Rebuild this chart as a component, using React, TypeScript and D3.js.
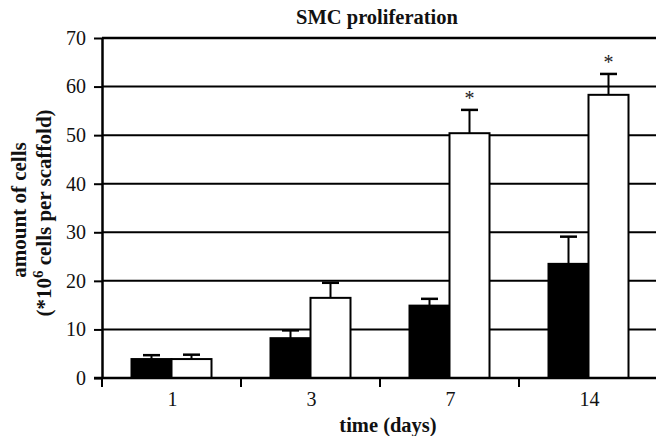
import React, { useEffect, useRef } from 'react';
import * as d3 from 'd3';

const days = ['1', '3', '7', '14'];
const control = [3.9, 8.2, 14.9, 23.5];
const controlErr = [0.8, 1.6, 1.4, 5.6];
const scaffold = [3.9, 16.5, 50.4, 58.3];
const scaffoldErr = [0.9, 3.1, 4.8, 4.3];
const significant = [false, false, true, true];
const yTicks = [0, 10, 20, 30, 40, 50, 60, 70];

const W = 656;
const H = 436;
const margin = { top: 38, left: 102, bottom: 58, right: -2 };
const FONT = '"Liberation Serif", "Times New Roman", serif';

const App = () => {
  const ref = useRef<SVGSVGElement>(null);

  useEffect(() => {
    const svg = d3.select(ref.current);
    svg.selectAll('*').remove();

    const x = d3.scaleBand().domain(days).range([margin.left, W - margin.right]);
    const y = d3.scaleLinear().domain([0, 70]).range([H - margin.bottom, margin.top]);
    const barW = 40;
    const g = svg.append('g');

    // grid lines
    g.selectAll('line.grid')
      .data(yTicks.filter(t => t > 0))
      .join('line')
      .attr('x1', margin.left)
      .attr('x2', W - margin.right)
      .attr('y1', d => y(d))
      .attr('y2', d => y(d))
      .attr('stroke', '#000')
      .attr('stroke-width', d => (d === 70 ? 2.5 : 2));

    // y axis
    const yAxis = g.append('g')
      .attr('transform', `translate(${margin.left},0)`)
      .call(d3.axisLeft(y).tickValues(yTicks).tickSize(8).tickSizeOuter(0).tickPadding(8));
    yAxis.select('.domain').attr('stroke-width', 2.5);
    yAxis.selectAll('.tick line').attr('stroke-width', 2);
    yAxis.selectAll('.tick text')
      .attr('font-family', FONT).attr('font-size', 20).attr('fill', '#111');

    // bars
    const groups = g.selectAll('g.day')
      .data(days)
      .join('g')
      .attr('transform', d => `translate(${(x(d) as number) + x.bandwidth() / 2},0)`);

    const series = [
      { vals: control, errs: controlErr, fill: '#000', off: -barW },
      { vals: scaffold, errs: scaffoldErr, fill: '#fff', off: 0 },
    ];

    series.forEach(s => {
      groups.append('line')
        .attr('x1', s.off + barW / 2)
        .attr('x2', s.off + barW / 2)
        .attr('y1', (_, i) => y(s.vals[i]))
        .attr('y2', (_, i) => y(s.vals[i] + s.errs[i]))
        .attr('stroke', '#000').attr('stroke-width', 2);
      groups.append('line')
        .attr('x1', s.off + barW / 2 - 8.5)
        .attr('x2', s.off + barW / 2 + 8.5)
        .attr('y1', (_, i) => y(s.vals[i] + s.errs[i]))
        .attr('y2', (_, i) => y(s.vals[i] + s.errs[i]))
        .attr('stroke', '#000').attr('stroke-width', 2.5);
      groups.append('rect')
        .attr('x', s.off)
        .attr('width', barW)
        .attr('y', (_, i) => y(s.vals[i]))
        .attr('height', (_, i) => y(0) - y(s.vals[i]))
        .attr('fill', s.fill)
        .attr('stroke', '#000')
        .attr('stroke-width', 2);
    });

    groups.filter((_, i) => significant[i])
      .append('text')
      .attr('x', barW / 2)
      .attr('y', (d) => {
        const i = days.indexOf(d);
        return y(scaffold[i] + scaffoldErr[i]) - 5;
      })
      .attr('text-anchor', 'middle')
      .attr('font-family', FONT).attr('font-size', 20).attr('fill', '#222')
      .text('*');

    // x axis
    const xAxis = g.append('g').attr('transform', `translate(0,${y(0)})`);
    xAxis.append('line')
      .attr('x1', margin.left - 8).attr('x2', W - margin.right)
      .attr('stroke', '#000').attr('stroke-width', 2.5);
    const edges = days.map(d => x(d) as number).concat([W - margin.right]);
    xAxis.selectAll('line.tk').data(edges).join('line')
      .attr('x1', d => d).attr('x2', d => d).attr('y1', 0).attr('y2', 9)
      .attr('stroke', '#000').attr('stroke-width', 2);
    xAxis.selectAll('text').data(days).join('text')
      .attr('x', d => (x(d) as number) + x.bandwidth() / 2 + 1)
      .attr('y', 28)
      .attr('text-anchor', 'middle')
      .attr('font-family', FONT).attr('font-size', 20).attr('fill', '#111')
      .text(d => d);

    // titles
    svg.append('text')
      .attr('x', 377).attr('y', 24)
      .attr('text-anchor', 'middle')
      .attr('font-family', FONT).attr('font-size', 20.5).attr('font-weight', 'bold').attr('fill', '#111')
      .text('SMC proliferation');
    svg.append('text')
      .attr('x', 388).attr('y', 432)
      .attr('text-anchor', 'middle')
      .attr('font-family', FONT).attr('font-size', 20.5).attr('font-weight', 'bold').attr('fill', '#111')
      .text('time (days)');

    svg.append('text')
      .attr('transform', 'translate(26,210) rotate(-90)')
      .attr('text-anchor', 'middle')
      .attr('font-family', FONT).attr('font-size', 21).attr('font-weight', 'bold').attr('fill', '#111')
      .text('amount of cells');
    const l2 = svg.append('text')
      .attr('transform', 'translate(51,213) rotate(-90)')
      .attr('text-anchor', 'middle')
      .attr('font-family', FONT).attr('font-size', 21).attr('font-weight', 'bold').attr('fill', '#111');
    l2.append('tspan').text('(*10');
    l2.append('tspan').attr('dy', -8).attr('font-size', 15).text('6');
    l2.append('tspan').attr('dy', 8).text(' cells per scaffold)');
  }, []);

  return (
    <svg ref={ref} width={W} height={H} style={{ position: 'absolute', left: 0, top: 0, background: '#fff' }} />
  );
};

export default App;
